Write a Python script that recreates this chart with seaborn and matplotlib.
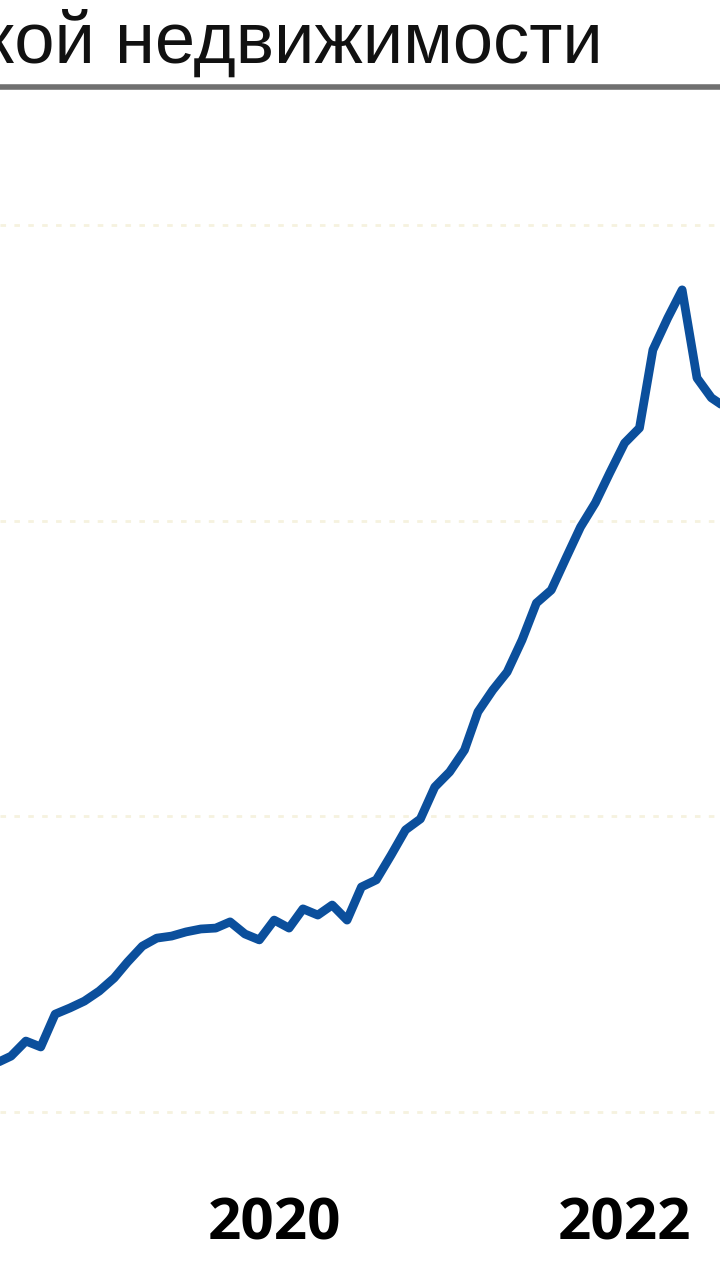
import pandas as pd
import seaborn as sns
import matplotlib.pyplot as plt
from matplotlib.lines import Line2D

# Monthly index values, June 2018 .. August 2022
months = pd.date_range("2018-06-01", periods=51, freq="MS")
index_values = [
    116.6, 118.9, 124.0, 122.0, 133.1, 135.2, 137.5, 140.9, 145.3, 150.7,
    156.1, 158.8, 159.5, 160.9, 161.9, 162.2, 164.3, 160.2, 158.2, 164.9,
    162.2, 168.7, 166.6, 170.0, 164.9, 176.1, 178.5, 186.9, 195.4, 199.1,
    209.9, 215.0, 222.4, 235.3, 242.7, 248.8, 259.6, 272.1, 276.5, 287.4,
    297.8, 306.0, 316.1, 326.2, 331.3, 357.7, 368.5, 378.0, 348.2, 341.5,
    338.1,
]
grid_levels = [100, 200, 300, 400]
year_ticks = ["2020", "2022"]
title_text = "кой недвижимости"

df = pd.DataFrame({"date": months, "value": index_values})

sns.set_theme(style="white")
plt.rcParams["font.family"] = ["Liberation Sans", "DejaVu Sans"]

fig = plt.figure(figsize=(7.2, 12.8), dpi=100)
fig.patch.set_facecolor("white")
ax = fig.add_axes([0.0, 110 / 1280, 1.0, 1070 / 1280])

# faint dotted grid
for lvl in grid_levels:
    ax.axhline(lvl, color="#f6f2df", linewidth=2.0, linestyle=(0, (2, 3)), zorder=0)

sns.lineplot(data=df, x="date", y="value", ax=ax, color="#0b4f9c",
             linewidth=6.3, solid_capstyle="round", solid_joinstyle="round")

ax.set_xlim(pd.Timestamp("2018-06-08"), pd.Timestamp("2022-07-19"))
ax.set_ylim(80.4, 442.2)
ax.set_xticks([pd.Timestamp(f"{y}-01-01") for y in year_ticks])
ax.set_xticklabels(year_ticks, fontfamily="Open Sans", fontweight="bold",
                   fontsize=42, color="black")
ax.tick_params(axis="x", length=0, pad=18)
ax.set_yticks([])
ax.set_xlabel("")
ax.set_ylabel("")
for s in ax.spines.values():
    s.set_visible(False)

# title fragment and rule under it
fig.text(603 / 720, 1 - 63 / 1280, title_text, ha="right", va="baseline",
         fontsize=52, color="#111111", fontfamily="Liberation Sans")
fig.add_artist(Line2D([0, 1], [1 - 87 / 1280, 1 - 87 / 1280],
                      color="#707070", linewidth=4))

fig.savefig("out.png", dpi=100, facecolor="white")
